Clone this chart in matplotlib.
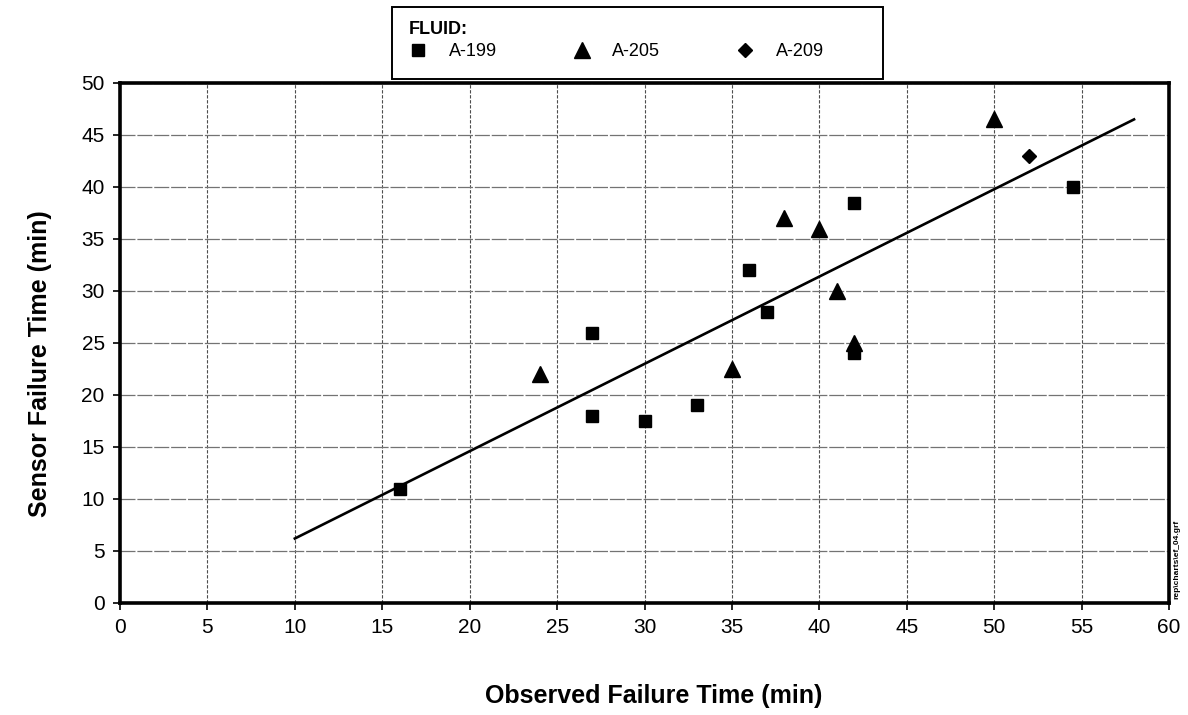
import matplotlib
matplotlib.use("Agg")
import matplotlib.pyplot as plt
from matplotlib.patches import Rectangle

plt.rcParams['font.family'] = ['Liberation Sans', 'DejaVu Sans']

# Observed vs. sensor failure times (minutes), by fluid
a199_x = [16, 27, 27, 30, 33, 36, 37, 42, 42, 54.5]
a199_y = [11, 26, 18, 17.5, 19, 32, 28, 38.5, 24, 40]
a205_x = [24, 35, 38, 40, 41, 42, 50]
a205_y = [22, 22.5, 37, 36, 30, 25, 46.5]
a209_x = [52]
a209_y = [43]

# Trend line end points
fit_x = [10, 58]
fit_y = [6.2, 46.5]

x_ticks = [0, 5, 10, 15, 20, 25, 30, 35, 40, 45, 50, 55, 60]
y_ticks = [0, 5, 10, 15, 20, 25, 30, 35, 40, 45, 50]

W, H = 1188, 715
fig = plt.figure(figsize=(W / 100, H / 100), dpi=100)
ax = fig.add_axes([120 / W, 1 - 603 / H, 1049 / W, 520 / H])

ax.set_xlim(0, 60)
ax.set_ylim(0, 50)
ax.set_xticks(x_ticks)
ax.set_yticks(y_ticks)
ax.tick_params(axis='both', direction='out', length=5, width=1.2,
               labelsize=15, pad=6, color='black')
ax.xaxis.grid(True, color='0.3', linewidth=0.8, linestyle=(0, (3, 1.5)))
ax.yaxis.grid(True, color='0.45', linewidth=0.9, linestyle=(0, (12, 1.5)))
ax.set_axisbelow(True)
for s in ax.spines.values():
    s.set_linewidth(2.6)
    s.set_color('black')

ax.plot(fit_x, fit_y, color='black', linewidth=1.9, zorder=3)

h1, = ax.plot(a199_x, a199_y, linestyle='none', marker='s', ms=8,
              color='black', label='A-199', zorder=4)
h2, = ax.plot(a205_x, a205_y, linestyle='none', marker='^', ms=11,
              color='black', label='A-205', zorder=4)
h3, = ax.plot(a209_x, a209_y, linestyle='none', marker='D', ms=7.5,
              color='black', label='A-209', zorder=4)

ax.set_xlabel('Observed Failure Time (min)', fontsize=18, fontweight='bold')
ax.xaxis.label.set_va('center')
ax.xaxis.set_label_coords((654 - 120) / 1049, (603 - 696) / 520)
ax.set_ylabel('Sensor Failure Time (min)', fontsize=18, fontweight='bold')
ax.yaxis.label.set_va('center')
ax.yaxis.set_label_coords((40 - 120) / 1049, (603 - 364) / 520)

# Legend box above the plot
fig.patches.append(Rectangle((392 / W, 1 - 79 / H), 491 / W, 72 / H,
                             transform=fig.transFigure, fill=False,
                             edgecolor='black', linewidth=1.4))
leg = fig.legend(handles=[h1, h2, h3], ncol=3, frameon=False,
                 loc='upper left', bbox_to_anchor=(409 / W, 1 - 21 / H),
                 title='FLUID:', alignment='left', fontsize=13,
                 title_fontproperties={'weight': 'bold', 'size': 13},
                 handlelength=1.0, handletextpad=1.2, columnspacing=4.2,
                 borderpad=0, borderaxespad=0, labelspacing=0.3)

fig.text(1177 / W, 1 - 559 / H, r'rep\charts\ef_04.grf', rotation=90,
         fontsize=6, fontweight='bold', ha='center', va='center')

fig.savefig('out.png', dpi=100, facecolor='white')
